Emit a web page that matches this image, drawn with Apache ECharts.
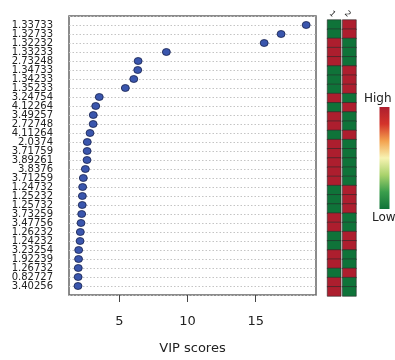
<!DOCTYPE html>
<html>
<head>
<meta charset="utf-8">
<script src="https://cdn.jsdelivr.net/npm/echarts@6/dist/echarts.min.js"></script>
<style>
  html, body { margin: 0; padding: 0; background: #fff; }
  #chart { width: 395px; height: 360px; }
</style>
</head>
<body>
<div id="chart"></div>
<script>
// Feature names, top to bottom
const rowLabels = [
  '1.33733', '1.32733', '1.32232', '1.33233', '2.73248', '1.34733', '1.34233', '1.35233',
  '3.24754', '4.12264', '3.49257', '2.72748', '4.11264', '2.0374', '3.71759', '3.89261',
  '3.8376', '3.71259', '1.24732', '1.25232', '1.25732', '3.73259', '3.47756', '1.26232',
  '1.24232', '3.23254', '1.92239', '1.26732', '0.82727', '3.40256'
];

// VIP score of each feature
const vipScores = [
  18.70, 16.86, 15.62, 8.45, 6.38, 6.35, 6.06, 5.44,
  3.53, 3.27, 3.09, 3.08, 2.85, 2.65, 2.64, 2.63,
  2.51, 2.36, 2.31, 2.29, 2.28, 2.24, 2.19, 2.14,
  2.12, 2.02, 2.01, 1.99, 1.98, 1.97
];

// Group names for the side heatmap
const groups = ['1', '2'];

// Relative level per feature in each group (1 = high, 0 = low)
const group1Level = [0,0,1,1,1,0,0,0,1,0,1,1,0,1,1,1,1,1,0,0,0,1,1,0,0,1,1,0,1,1];
const group2Level = [1,1,0,0,0,1,1,1,0,1,0,0,1,0,0,0,0,0,1,1,1,0,0,1,1,0,0,1,0,0];

const xTicks = [5, 10, 15];
const legendText = ['High', 'Low'];

// Low -> high colour ramp shared by the heatmap and its colour key
const ramp = ['#0f7339', '#3a9e4c', '#a9d26c', '#f7f3b2', '#f3a24f', '#d4332a', '#ad1e2e'];

const FONT = 'DejaVu Sans';
const chart = echarts.init(document.getElementById('chart'), null, { renderer: 'canvas' });

const rowIdx = rowLabels.map((_, i) => i);

function heatAxes(k) {
  return {
    x: {
      type: 'category', gridIndex: k + 1, position: 'top', data: [groups[k]],
      axisLine: { show: false }, axisTick: { show: false },
      axisLabel: { rotate: 45, fontSize: 8, color: '#222', fontFamily: FONT, margin: 4 }
    },
    y: {
      type: 'category', gridIndex: k + 1, data: rowIdx, inverse: true,
      axisLine: { show: false }, axisTick: { show: false }, axisLabel: { show: false },
      splitLine: { show: false }
    }
  };
}
const h1 = heatAxes(0), h2 = heatAxes(1);

// Colour key: top = high, bottom = low
const keyStops = ramp.slice().reverse().map((c, i, a) => ({ offset: i / (a.length - 1), color: c }));

chart.setOption({
  animation: false,
  backgroundColor: '#fff',
  grid: [
    { left: 69, top: 16, width: 247, height: 284, show: true, borderColor: '#666', borderWidth: 1.5, backgroundColor: 'transparent' },
    { left: 327.5, top: 20, width: 13.3, height: 276 },
    { left: 342.7, top: 20, width: 13.3, height: 276 }
  ],
  xAxis: [
    {
      type: 'value', gridIndex: 0, min: 1.31, max: 19.42,
      axisLine: { show: false, onZero: false },
      axisTick: { show: true, length: 7, customValues: xTicks, lineStyle: { color: '#444', width: 1 } },
      axisLabel: { customValues: xTicks, margin: 20, fontSize: 13, color: '#222', fontFamily: FONT },
      splitLine: { show: false },
      name: 'VIP scores', nameLocation: 'middle', nameGap: 47,
      nameTextStyle: { fontSize: 13, color: '#222', fontFamily: FONT }
    },
    h1.x, h2.x
  ],
  yAxis: [
    {
      type: 'value', gridIndex: 0, min: -1, max: 30, interval: 1, inverse: true,
      axisLine: { show: false, onZero: false }, axisTick: { show: false },
      axisLabel: {
        margin: 16, fontSize: 10, color: '#222', fontFamily: FONT,
        formatter: v => (rowLabels[v] !== undefined ? rowLabels[v] : '')
      },
      splitLine: { show: true, lineStyle: { type: [1.5, 2], color: '#c4c4c4', width: 1 } }
    },
    h1.y, h2.y
  ],
  visualMap: {
    type: 'continuous', min: 0, max: 1, seriesIndex: [1, 2], show: false,
    inRange: { color: ramp }
  },
  graphic: [
    {
      type: 'rect', left: 379.5, top: 107, shape: { width: 10, height: 102 },
      style: { fill: new echarts.graphic.LinearGradient(0, 0, 0, 1, keyStops) }
    },
    { type: 'text', left: 364, top: 93, style: { text: legendText[0], fontSize: 12, fill: '#222', fontFamily: FONT } },
    { type: 'text', left: 372, top: 212, style: { text: legendText[1], fontSize: 12, fill: '#222', fontFamily: FONT } }
  ],
  series: [
    {
      type: 'scatter', xAxisIndex: 0, yAxisIndex: 0,
      data: vipScores.map((v, i) => [v, i]),
      symbol: 'circle', symbolSize: [8, 7],
      itemStyle: { color: '#3a56ad', borderColor: '#17204d', borderWidth: 0.8, opacity: 1 }
    },
    {
      type: 'heatmap', xAxisIndex: 1, yAxisIndex: 1,
      data: group1Level.map((v, i) => [0, i, v]),
      itemStyle: { borderColor: '#2a2a2a', borderWidth: 0.6 }
    },
    {
      type: 'heatmap', xAxisIndex: 2, yAxisIndex: 2,
      data: group2Level.map((v, i) => [0, i, v]),
      itemStyle: { borderColor: '#2a2a2a', borderWidth: 0.6 }
    }
  ]
});
</script>
</body>
</html>
